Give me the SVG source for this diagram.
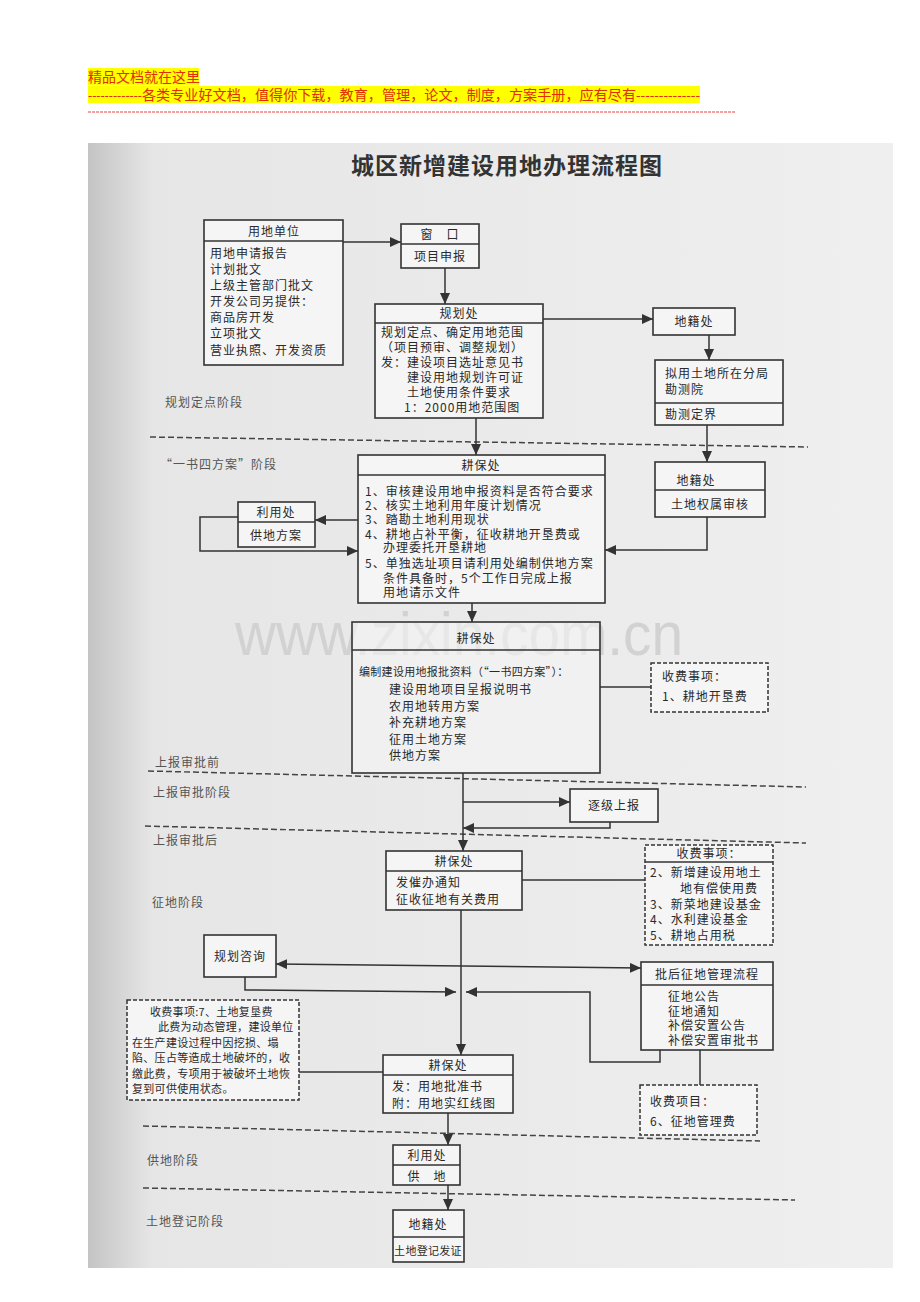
<svg xmlns="http://www.w3.org/2000/svg" width="920" height="1302" viewBox="0 0 920 1302">
<defs>
<linearGradient id="pg" x1="0" y1="0" x2="1" y2="0">
<stop offset="0" stop-color="#c4c4c4"/>
<stop offset="0.08" stop-color="#e6e6e6"/>
<stop offset="1" stop-color="#efefef"/>
</linearGradient>
<marker id="ar" markerUnits="userSpaceOnUse" markerWidth="11" markerHeight="10" refX="11" refY="5" orient="auto-start-reverse">
<path d="M0,0 L11,5 L0,10 z" fill="#333"/>
</marker>
<style>
.b{fill:#f5f5f5;stroke:#333;stroke-width:1.6}
.d{fill:#f5f5f5;stroke:#333;stroke-width:1.5;stroke-dasharray:4 2}
.dv{stroke:#333;stroke-width:1.4}
.t{font-family:"Noto Sans CJK SC",sans-serif;font-size:12px;fill:#2a2a2a;letter-spacing:1px}
.s{font-size:11px;letter-spacing:0.3px}
.m{text-anchor:middle}
.c{stroke:#333;stroke-width:1.5;fill:none}
.st{stroke:#444;stroke-width:1.5;stroke-dasharray:6 3}
.lab{font-family:"Noto Sans CJK SC",sans-serif;font-size:12px;fill:#555;letter-spacing:1px}
.hd{font-family:"Noto Sans CJK SC",sans-serif;font-size:14px;fill:#e03000}
</style>
</defs>

<!-- header -->
<g id="header">
<rect x="88" y="68" width="111" height="17" fill="#ffff00"/>
<rect x="88" y="86" width="612" height="17" fill="#ffff00"/>
<text class="hd" x="88" y="82">精品文档就在这里</text>
<text class="hd" x="88" y="100" textLength="54" lengthAdjust="spacingAndGlyphs">-------------</text>
<text class="hd" x="142" y="100" textLength="494" lengthAdjust="spacingAndGlyphs">各类专业好文档，值得你下载，教育，管理，论文，制度，方案手册，应有尽有</text>
<text class="hd" x="636" y="100" textLength="64" lengthAdjust="spacingAndGlyphs">--------------</text>
<line x1="88" y1="112" x2="735" y2="112" stroke="#f08080" stroke-width="1.5" stroke-dasharray="3 1"/>
</g>

<!-- page -->
<rect x="88" y="143" width="805" height="1125" fill="url(#pg)"/>
<text x="507" y="174" font-family="'Noto Sans CJK SC',sans-serif" font-size="23" font-weight="bold" fill="#333" text-anchor="middle" letter-spacing="1">城区新增建设用地办理流程图</text>

<!-- watermark -->
<text x="235" y="655" font-family="'Liberation Sans',Arial,sans-serif" font-size="62" fill="#d2d2d2" textLength="448" lengthAdjust="spacingAndGlyphs">www.zixin.com.cn</text>

<!-- stage lines and labels -->
<g id="stages">
<line class="st" x1="150" y1="437" x2="808" y2="447"/>
<line class="st" x1="148" y1="771" x2="806" y2="787"/>
<line class="st" x1="145" y1="826" x2="806" y2="843"/>
<line class="st" x1="143" y1="1126" x2="760" y2="1141"/>
<line class="st" x1="143" y1="1188" x2="795" y2="1200"/>
<text class="lab" x="165" y="407">规划定点阶段</text>
<text class="lab" x="160" y="469">“一书四方案”阶段</text>
<text class="lab" x="155" y="767">上报审批前</text>
<text class="lab" x="153" y="797">上报审批阶段</text>
<text class="lab" x="153" y="845">上报审批后</text>
<text class="lab" x="152" y="907">征地阶段</text>
<text class="lab" x="147" y="1165">供地阶段</text>
<text class="lab" x="146" y="1226">土地登记阶段</text>
</g>

<!-- connectors -->
<g id="connectors">
<line class="c" x1="343" y1="242" x2="401" y2="242" marker-end="url(#ar)"/>
<line class="c" x1="445" y1="268" x2="445" y2="304" marker-end="url(#ar)"/>
<line class="c" x1="543" y1="319" x2="653" y2="319" marker-end="url(#ar)"/>
<line class="c" x1="709" y1="335" x2="709" y2="360" marker-end="url(#ar)"/>
<line class="c" x1="476" y1="418" x2="476" y2="455" marker-end="url(#ar)"/>
<line class="c" x1="707" y1="425" x2="707" y2="462" marker-end="url(#ar)"/>
<line class="c" x1="358" y1="520" x2="315" y2="520" marker-end="url(#ar)"/>
<polyline class="c" points="238,517 200,517 200,551 358,551" marker-end="url(#ar)"/>
<polyline class="c" points="707,517 707,550 605,550" marker-end="url(#ar)"/>
<line class="c" x1="472" y1="603" x2="472" y2="622" marker-end="url(#ar)"/>
<line class="c" x1="600" y1="687" x2="651" y2="687"/>
<line class="c" x1="463" y1="773" x2="463" y2="851" marker-end="url(#ar)"/>
<line class="c" x1="463" y1="802" x2="570" y2="802" marker-end="url(#ar)"/>
<polyline class="c" points="610,822 610,828 463,828" marker-end="url(#ar)"/>
<line class="c" x1="522" y1="880" x2="645" y2="880"/>
<line class="c" x1="276" y1="964" x2="641" y2="968" marker-start="url(#ar)" marker-end="url(#ar)"/>
<line class="c" x1="461" y1="910" x2="461" y2="1055" marker-end="url(#ar)"/>
<polyline class="c" points="245,977 245,990 456,992" marker-end="url(#ar)"/>
<polyline class="c" points="660,1050 660,1062 590,1062 590,992 466,992" marker-end="url(#ar)"/>
<line class="c" x1="700" y1="1050" x2="700" y2="1085"/>
<line class="c" x1="299" y1="1072" x2="383" y2="1072"/>
<line class="c" x1="448" y1="1113" x2="448" y2="1145" marker-end="url(#ar)"/>
<line class="c" x1="448" y1="1185" x2="448" y2="1210" marker-end="url(#ar)"/>
</g>

<!-- nodes -->
<g id="n_yongdi">
<rect class="b" x="204" y="220" width="139" height="145"/>
<line class="dv" x1="204" y1="241" x2="343" y2="241"/>
<text class="t m" x="274" y="236">用地单位</text>
<text class="t" x="210" y="258">用地申请报告</text>
<text class="t" x="210" y="274">计划批文</text>
<text class="t" x="210" y="290">上级主管部门批文</text>
<text class="t" x="210" y="306">开发公司另提供：</text>
<text class="t" x="210" y="322">商品房开发</text>
<text class="t" x="210" y="338">立项批文</text>
<text class="t" x="210" y="355">营业执照、开发资质</text>
</g>

<g id="n_chuangkou">
<rect class="b" x="401" y="224" width="78" height="44"/>
<line class="dv" x1="401" y1="244" x2="479" y2="244"/>
<text class="t m" x="440" y="239">窗　口</text>
<text class="t m" x="440" y="261">项目申报</text>
</g>

<g id="n_guihua">
<rect class="b" x="375" y="304" width="168" height="114"/>
<line class="dv" x1="375" y1="323" x2="543" y2="323"/>
<text class="t m" x="459" y="318">规划处</text>
<text class="t" x="381" y="337">规划定点、确定用地范围</text>
<text class="t" x="381" y="352">（项目预审、调整规划）</text>
<text class="t" x="381" y="367">发：建设项目选址意见书</text>
<text class="t" x="407" y="382">建设用地规划许可证</text>
<text class="t" x="407" y="397">土地使用条件要求</text>
<text class="t" x="404" y="412">1：2000用地范围图</text>
</g>

<g id="n_diji1">
<rect class="b" x="653" y="308" width="82" height="27"/>
<text class="t m" x="694" y="326">地籍处</text>
</g>

<g id="n_kance">
<rect class="b" x="655" y="360" width="128" height="65"/>
<line class="dv" x1="655" y1="403" x2="783" y2="403"/>
<text class="t" x="665" y="378">拟用土地所在分局</text>
<text class="t" x="665" y="394">勘测院</text>
<text class="t" x="665" y="419">勘测定界</text>
</g>

<g id="n_gengbao1">
<rect class="b" x="358" y="455" width="247" height="148"/>
<line class="dv" x1="358" y1="475" x2="605" y2="475"/>
<text class="t m" x="481" y="470">耕保处</text>
<text class="t" x="365" y="496">1、审核建设用地申报资料是否符合要求</text>
<text class="t" x="365" y="510">2、核实土地利用年度计划情况</text>
<text class="t" x="365" y="524">3、踏勘土地利用现状</text>
<text class="t" x="365" y="539">4、耕地占补平衡，征收耕地开垦费或</text>
<text class="t" x="383" y="552">办理委托开垦耕地</text>
<text class="t" x="365" y="568">5、单独选址项目请利用处编制供地方案</text>
<text class="t" x="383" y="583">条件具备时，5个工作日完成上报</text>
<text class="t" x="383" y="597">用地请示文件</text>
</g>

<g id="n_liyong1">
<rect class="b" x="238" y="502" width="77" height="45"/>
<line class="dv" x1="238" y1="522" x2="315" y2="522"/>
<text class="t m" x="276" y="517">利用处</text>
<text class="t m" x="276" y="540">供地方案</text>
</g>

<g id="n_diji2">
<rect class="b" x="655" y="462" width="110" height="55"/>
<line class="dv" x1="655" y1="490" x2="765" y2="490"/>
<text class="t m" x="696" y="485">地籍处</text>
<text class="t m" x="710" y="509">土地权属审核</text>
</g>

<g id="n_gengbao2">
<rect class="b" x="352" y="622" width="248" height="151" fill-opacity="0.6"/>
<line class="dv" x1="352" y1="650" x2="600" y2="650"/>
<text class="t m" x="476" y="643">耕保处</text>
<text class="t s" x="359" y="676" letter-spacing="0.4">编制建设用地报批资料（“一书四方案”）：</text>
<text class="t" x="389" y="694">建设用地项目呈报说明书</text>
<text class="t" x="389" y="711">农用地转用方案</text>
<text class="t" x="389" y="727">补充耕地方案</text>
<text class="t" x="389" y="744">征用土地方案</text>
<text class="t" x="389" y="760">供地方案</text>
</g>

<g id="n_fee1">
<rect class="d" x="651" y="663" width="117" height="49"/>
<text class="t" x="662" y="681">收费事项：</text>
<text class="t" x="662" y="701">1、耕地开垦费</text>
</g>

<g id="n_zhuji">
<rect class="b" x="570" y="789" width="88" height="33"/>
<text class="t m" x="614" y="810">逐级上报</text>
</g>

<g id="n_gengbao3">
<rect class="b" x="386" y="851" width="136" height="59"/>
<line class="dv" x1="386" y1="871" x2="522" y2="871"/>
<text class="t m" x="454" y="866">耕保处</text>
<text class="t" x="396" y="887">发催办通知</text>
<text class="t" x="396" y="904">征收征地有关费用</text>
</g>

<g id="n_fee2">
<rect class="d" x="645" y="845" width="128" height="100"/>
<line class="dv" x1="645" y1="862" x2="773" y2="862"/>
<text class="t m" x="709" y="858">收费事项：</text>
<text class="t" x="650" y="877">2、新增建设用地土</text>
<text class="t" x="680" y="893">地有偿使用费</text>
<text class="t" x="650" y="909">3、新菜地建设基金</text>
<text class="t" x="650" y="924">4、水利建设基金</text>
<text class="t" x="650" y="940">5、耕地占用税</text>
</g>

<g id="n_zixun">
<rect class="b" x="204" y="935" width="72" height="42"/>
<text class="t m" x="240" y="961" fill="#666">规划咨询</text>
</g>

<g id="n_pihou">
<rect class="b" x="641" y="962" width="132" height="88"/>
<line class="dv" x1="641" y1="985" x2="773" y2="985"/>
<text class="t m" x="707" y="979">批后征地管理流程</text>
<text class="t" x="668" y="1001">征地公告</text>
<text class="t" x="668" y="1016">征地通知</text>
<text class="t" x="668" y="1030">补偿安置公告</text>
<text class="t" x="668" y="1045">补偿安置审批书</text>
</g>

<g id="n_fee6">
<rect class="d" x="640" y="1085" width="117" height="50"/>
<text class="t" x="650" y="1106">收费项目：</text>
<text class="t" x="650" y="1126">6、征地管理费</text>
</g>

<g id="n_fee7">
<rect class="d" x="127" y="1000" width="172" height="100"/>
<text class="t s" x="150" y="1016">收费事项:7、土地复垦费</text>
<text class="t s" x="158" y="1031">此费为动态管理，建设单位</text>
<text class="t s" x="132" y="1047">在生产建设过程中因挖损、塌</text>
<text class="t s" x="132" y="1062">陷、压占等造成土地破坏的，收</text>
<text class="t s" x="132" y="1078">缴此费，专项用于被破坏土地恢</text>
<text class="t s" x="132" y="1093">复到可供使用状态。</text>
</g>

<g id="n_gengbao4">
<rect class="b" x="383" y="1055" width="130" height="58"/>
<line class="dv" x1="383" y1="1075" x2="513" y2="1075"/>
<text class="t m" x="448" y="1070">耕保处</text>
<text class="t" x="392" y="1091">发：用地批准书</text>
<text class="t" x="392" y="1108">附：用地实红线图</text>
</g>

<g id="n_liyong2">
<rect class="b" x="393" y="1145" width="67" height="40"/>
<line class="dv" x1="393" y1="1165" x2="460" y2="1165"/>
<text class="t m" x="427" y="1160">利用处</text>
<text class="t m" x="427" y="1181">供　地</text>
</g>

<g id="n_diji3">
<rect class="b" x="393" y="1210" width="71" height="52"/>
<line class="dv" x1="393" y1="1237" x2="464" y2="1237"/>
<text class="t m" x="428" y="1229">地籍处</text>
<text class="t m s" x="428" y="1255" letter-spacing="0">土地登记发证</text>
</g>
</svg>
